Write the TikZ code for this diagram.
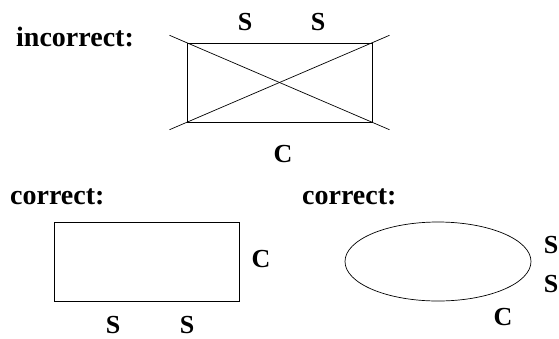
\documentclass[tikz,border=0pt]{standalone}
\usepackage{fontspec}
\setmainfont{Liberation Serif}
\usetikzlibrary{shapes.geometric,positioning,calc}
\tikzset{
  headtxt/.style={font=\fontsize{28}{32}\selectfont\bfseries,inner sep=0pt,anchor=base west},
  sidetxt/.style={font=\fontsize{26}{30}\selectfont\bfseries,inner sep=0pt,anchor=base},
  box_shape/.style={rectangle,draw,line width=0.7pt,minimum width=185pt,minimum height=79pt,inner sep=0pt},
  oval_shape/.style={ellipse,draw,line width=0.7pt,minimum width=186pt,minimum height=79pt,inner sep=0pt},
  strike/.style={line width=0.7pt},
}

\begin{document}
\begin{tikzpicture}[x=1pt,y=-1pt]
  \useasboundingbox (0,0) rectangle (559,338);
  % crossed-out box
  \node (inc) [headtxt] at (16,46) {incorrect:};
  \node (bad) [box_shape] at (279.5,82.5) {};
  \node (bs1)[sidetxt] at (245,30) {S};
  \node (bs2)[sidetxt] at (318,30) {S};
  \node (bc) [sidetxt] at (283,162) {C};
  \draw[strike] ($(bad.north west)!-0.092!(bad.south east)$) -- ($(bad.south east)!-0.092!(bad.north west)$);
  \draw[strike] ($(bad.south west)!-0.092!(bad.north east)$) -- ($(bad.north east)!-0.092!(bad.south west)$);
  % correct box
  \node (ok1)[headtxt] at (10,204) {correct:};
  \node (good)[box_shape] at (146.5,261.5) {};
  \node (gc) [sidetxt] at (261,267) {C};
  \node (gs1)[sidetxt] at (113,333) {S};
  \node (gs2)[sidetxt] at (187,333) {S};
  % correct oval
  \node (ok2)[headtxt] at (302,204) {correct:};
  \node (oval)[oval_shape] at (438,261.5) {};
  \node (os1)[sidetxt] at (551,253) {S};
  \node (os2)[sidetxt] at (551,292) {S};
  \node (oc) [sidetxt] at (503,325) {C};
\end{tikzpicture}
\end{document}
